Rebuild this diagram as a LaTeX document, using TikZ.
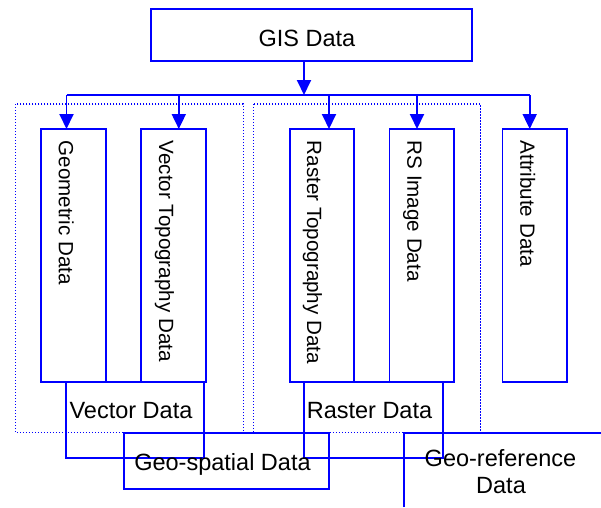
\documentclass[tikz,border=0pt]{standalone}
\usepackage{fontspec}
\setmainfont{Liberation Sans}
\usetikzlibrary{arrows.meta}
\definecolor{lineblue}{RGB}{0,0,255}
\tikzset{
  line/.style={draw=lineblue, line width=1.9pt},
  dotbox/.style={draw=lineblue, line width=1.3pt, dash pattern=on 1.3pt off 1.7pt},
  box/.style={line, rectangle, inner sep=0pt, outer sep=0pt},
  vbox/.style={box, minimum width=64.7pt, minimum height=253pt},
  arr/.style={line, -{Triangle[length=15pt,width=14pt]}},
  htext/.style={inner sep=0pt, anchor=base, font=\fontsize{23.5}{27}\selectfont, text=black},
  vtext/.style={inner sep=0pt, anchor=base west, rotate=-90, font=\fontsize{20.6}{24}\selectfont, text=black}
}
\begin{document}
\begin{tikzpicture}[x=1pt, y=-1pt]
\useasboundingbox (0,0) rectangle (601,507);

% dotted group frames
\draw[dotbox] (15.7,104) rectangle (243.3,432.7);
\draw[dotbox] (253.6,104) rectangle (480.7,432.7);

% top box
\node[box, minimum width=321.6pt, minimum height=51.7pt] (gis) at (311.4,35.15) {};
\node[htext] (gisT) at (307,46) {GIS Data};

% vertical boxes
\node[vbox] (geo)  at (73.65,255.5) {};
\node[vbox] (vt)   at (173.65,255.5) {};
\node[vbox] (rt)   at (322.0,255.5) {};
\node[vbox] (rs)   at (421.85,255.5) {};
\node[vbox] (attr) at (534.85,255.5) {};

\node[vtext] (geoT)  at (58.8,140.5)  {Geometric Data};
\node[vtext] (vtT)   at (159.0,140.5) {Vector Topography Data};
\node[vtext] (rtT)   at (307.2,140.5) {Raster Topography Data};
\node[vtext] (rsT)   at (407.4,140.5) {RS Image Data};
\node[vtext] (attrT) at (520.4,140.5) {Attribute Data};

% bus and arrows
\coordinate (bus) at (304,95);
\coordinate (b1) at (66.5,95);
\coordinate (b2) at (178.8,95);
\coordinate (b3) at (329.0,95);
\coordinate (b4) at (417.0,95);
\coordinate (b5) at (529.7,95);
\draw[line] (b1) -- (b5);
\draw[arr] (gis.south -| bus) -- (bus);
\draw[arr] (b1) -- (b1 |- geo.north);
\draw[arr] (b2) -- (b2 |- vt.north);
\draw[arr] (b3) -- (b3 |- rt.north);
\draw[arr] (b4) -- (b4 |- rs.north);
\draw[arr] (b5) -- (b5 |- attr.north);

% group rectangles
\node[box, minimum width=137.7pt, minimum height=75.7pt] (vec) at (135.15,419.85) {};
\node[box, minimum width=138.4pt, minimum height=75.7pt] (ras) at (373.5,419.85) {};
\node[htext] (vecT) at (131,418) {Vector Data};
\node[htext] (rasT) at (369.5,418) {Raster Data};

% geo-spatial box
\node[box, minimum width=205pt, minimum height=56.6pt] (gsp) at (226.4,461) {};
\node[htext] (gspT) at (222.5,470) {Geo-spatial Data};

% geo-reference (open frame running off the picture)
\coordinate (grA) at (404.4,507);
\coordinate (grB) at (404.4,432.7);
\coordinate (grC) at (601,432.7);
\draw[line] (grA) -- (grB) -- (grC);
\node[htext] (grT1) at (500.5,466) {Geo-reference};
\node[htext] (grT2) at (501,493) {Data};
\end{tikzpicture}
\end{document}
